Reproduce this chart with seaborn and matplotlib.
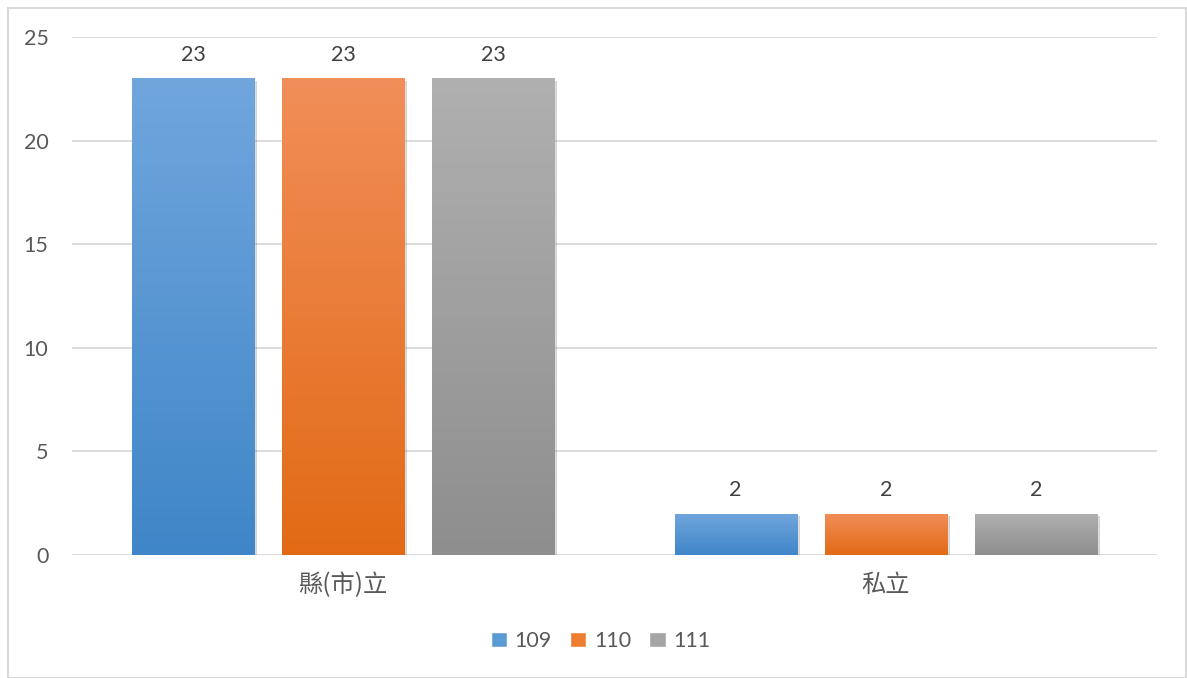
import numpy as np
import pandas as pd
import matplotlib
matplotlib.use('Agg')
import matplotlib.pyplot as plt
import seaborn as sns
from matplotlib.colors import LinearSegmentedColormap
from matplotlib.patches import Rectangle
import matplotlib.patheffects as pe

categories = ['縣(市)立', '私立']
years = ['109', '110', '111']
values_109 = [23, 2]
values_110 = [23, 2]
values_111 = [23, 2]
y_ticks = [0, 5, 10, 15, 20, 25]

df = pd.DataFrame({
    'category': categories * 3,
    'year': [y for y in years for _ in categories],
    'count': values_109 + values_110 + values_111,
})

sns.set_theme(style='white')
plt.rcParams['font.family'] = ['Lato', 'Noto Sans CJK TC', 'DejaVu Sans']

base = {'109': '#5B9BD5', '110': '#ED7D31', '111': '#A5A5A5'}
grads = {'109': ('#3F86C8', '#71A6DD'),
         '110': ('#E26A15', '#F18E59'),
         '111': ('#8E8E8E', '#B0B0B0')}

fig = plt.figure(figsize=(11.87, 6.78), dpi=100)
ax = fig.add_axes([72 / 1187, 1 - 555 / 678, (1157 - 72) / 1187, (555 - 37) / 678])

sns.barplot(data=df, x='category', y='count', hue='year', hue_order=years,
            palette=base, width=0.83, gap=0.186, saturation=1, ax=ax,
            legend=False, errorbar=None)

ax.set_ylim(0, 25)
ax.set_yticks(y_ticks)
xlim = ax.get_xlim()

for cont, yr in zip(ax.containers, years):
    dark, light = grads[yr]
    cmap = LinearSegmentedColormap.from_list('g' + yr, [dark, light])
    for bar in cont:
        x0, y0 = bar.get_xy()
        w, h = bar.get_width(), bar.get_height()
        bar.set_path_effects([pe.SimplePatchShadow(offset=(2, -2), shadow_rgbFace='k', alpha=0.18),
                              pe.Normal()])
        im = ax.imshow(np.linspace(0, 1, 256).reshape(-1, 1), cmap=cmap,
                       extent=[x0, x0 + w, y0, y0 + h], origin='lower',
                       aspect='auto', zorder=bar.get_zorder() + 0.1)
        im.set_clip_path(bar)
    ax.bar_label(cont, labels=[f'{int(b.get_height())}' for b in cont],
                 padding=10, fontsize=15.5, color='#404040')

ax.set_xlim(xlim)
ax.set_ylim(0, 25)

for s in ax.spines.values():
    s.set_visible(False)
ax.grid(axis='y', color='#d9d9d9', lw=1.3)
ax.set_axisbelow(True)
ax.set_xlabel('')
ax.set_ylabel('')
ax.tick_params(axis='y', length=0, pad=17, labelsize=15.5, labelcolor='#595959')
ax.tick_params(axis='x', length=0, pad=12, labelcolor='#595959')
for t in ax.get_xticklabels():
    t.set_fontfamily(['Noto Sans CJK TC', 'DejaVu Sans'])
    t.set_fontsize(17.5)
    t.set_fontweight('light')

handles = [Rectangle((0, 0), 1, 1, facecolor=base[y]) for y in years]
fig.legend(handles, years, loc='center', bbox_to_anchor=(0.506, 1 - 641 / 678), ncol=3,
           frameon=False, handlelength=0.75, handleheight=0.75, handletextpad=0.35,
           columnspacing=0.85, fontsize=15.5, labelcolor='#595959')

fig.patches.append(Rectangle((8 / 1187, 0), (1186 - 8) / 1187, 1 - 8 / 678,
                             transform=fig.transFigure, fill=False,
                             edgecolor='#d9d9d9', lw=1.5))

fig.savefig('out.png', dpi=100)
